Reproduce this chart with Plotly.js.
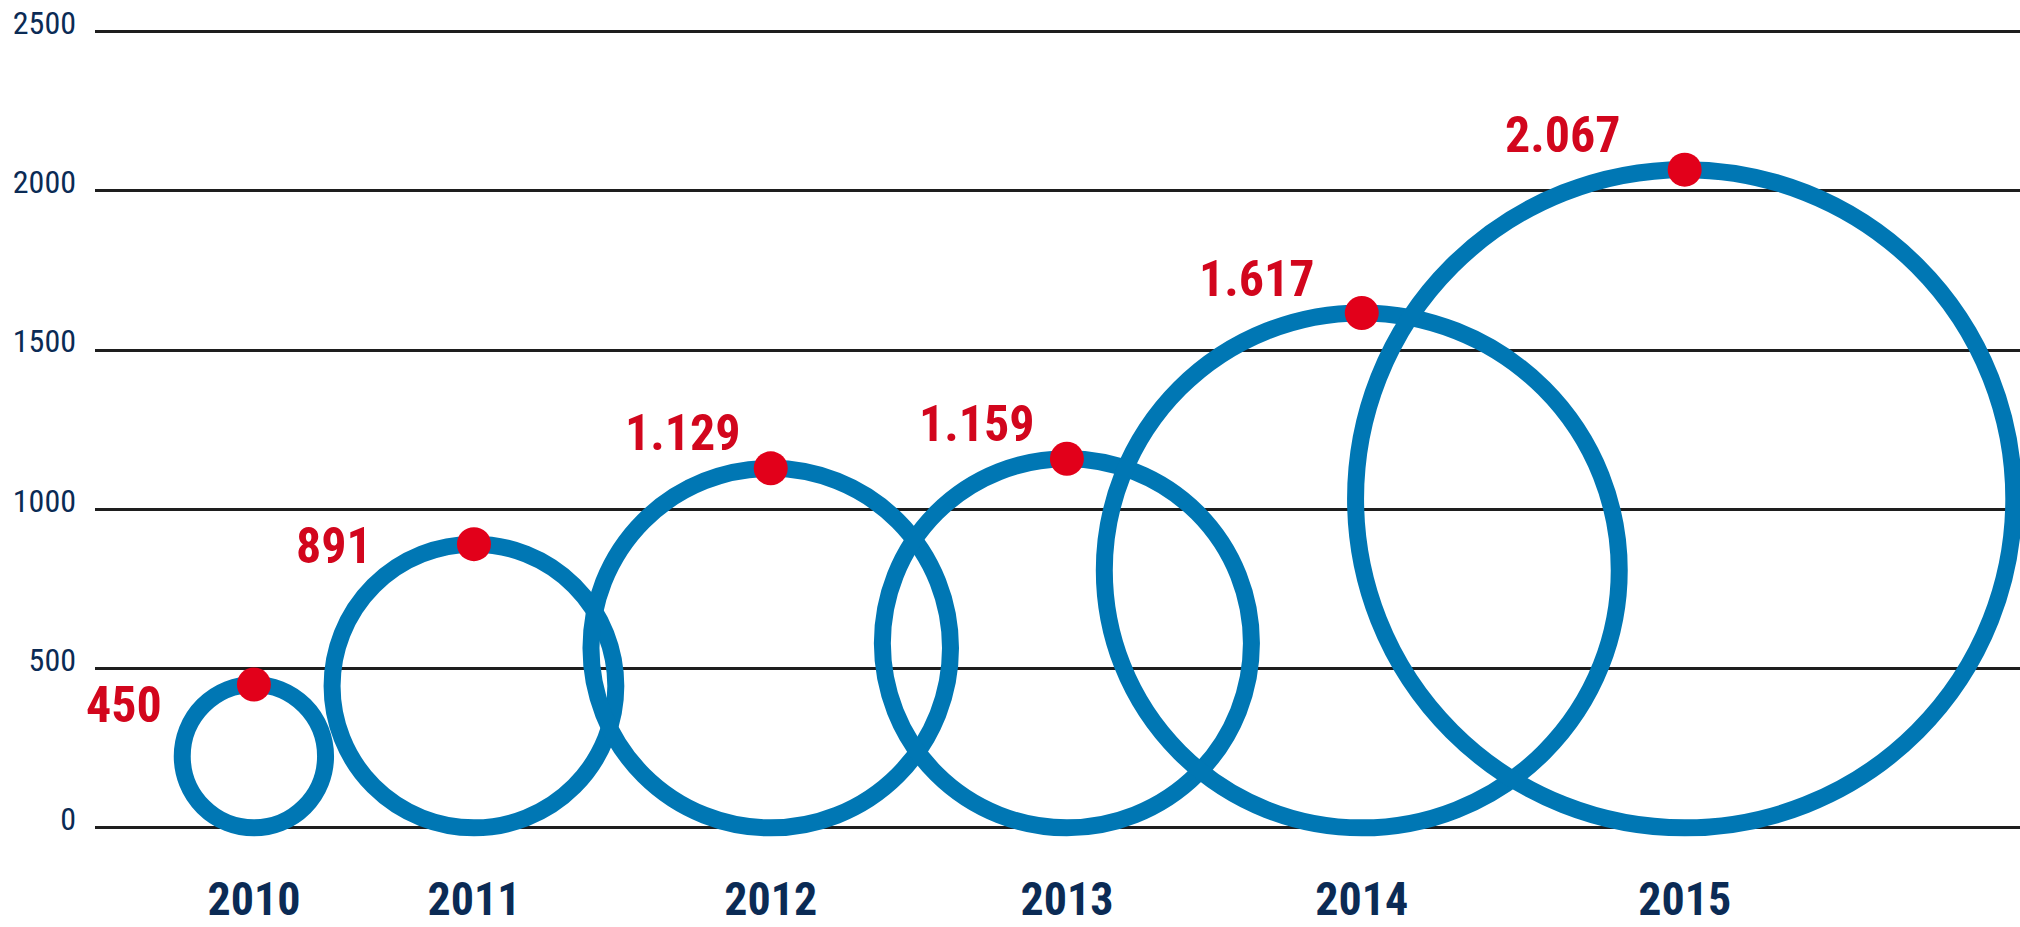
<!DOCTYPE html>
<html>
<head>
<meta charset="utf-8">
<script src="https://cdn.plot.ly/plotly-3.0.1.min.js"></script>
<style>
  html, body { margin: 0; padding: 0; background: #ffffff; }
  #chart { width: 2020px; height: 927px; }
</style>
</head>
<body>
<div id="chart"></div>
<script>
// ---- data ----
const years  = ['2010', '2011', '2012', '2013', '2014', '2015'];
const values = [450, 891, 1129, 1159, 1617, 2067];
const yTickValues = [0, 500, 1000, 1500, 2000, 2500];
const yTickLabels = ['0', '500', '1000', '1500', '2000', '2500'];

// ---- placement (layout, in axis units) ----
const slotCentres = [499, 1190, 2122, 3052, 3978, 4992];
const labelShift = [[-90, -20], [-100, -2], [-28, 35], [-30, 35], [-45, 34], [-62, 35]];

const FONT = '"Liberation Sans Narrow", "Roboto Condensed", "DejaVu Sans Condensed", Roboto, sans-serif';
const NAVY = '#0b2b55';
const RED_TEXT = '#d2061d';
const RED_DOT = '#e2001a';
const BLUE = '#0077b4';

function fmt(v) {
  if (v >= 1000) {
    return Math.floor(v / 1000) + '.' + String(v % 1000).padStart(3, '0');
  }
  return String(v);
}

const rings = values.map((v, i) => ({
  type: 'circle',
  xref: 'x', yref: 'y',
  x0: slotCentres[i] - v / 2,
  x1: slotCentres[i] + v / 2,
  y0: 0,
  y1: v,
  line: { color: BLUE, width: 17 },
  fillcolor: 'rgba(0,0,0,0)',
  layer: 'between'
}));

const dots = {
  type: 'scatter',
  mode: 'markers',
  x: slotCentres,
  y: values,
  marker: { color: RED_DOT, size: 34, line: { width: 0 } },
  hoverinfo: 'skip',
  cliponaxis: false,
  showlegend: false
};

const labels = values.map((v, i) => ({
  x: slotCentres[i],
  y: v,
  xref: 'x', yref: 'y',
  text: '<b>' + fmt(v) + '</b>',
  showarrow: false,
  xanchor: 'right',
  yanchor: 'middle',
  xshift: labelShift[i][0],
  yshift: labelShift[i][1],
  font: { family: FONT, size: 50, color: RED_TEXT }
}));

const layout = {
  width: 2020,
  height: 927,
  margin: { l: 95, r: 0, t: 26, b: 80, pad: 0 },
  paper_bgcolor: '#ffffff',
  plot_bgcolor: '#ffffff',
  showlegend: false,
  xaxis: {
    range: [0, 6045],
    tickvals: slotCentres,
    ticktext: years.map(y => '<b>' + y + '</b>'),
    tickfont: { family: FONT, size: 46, color: NAVY },
    showgrid: false,
    zeroline: false,
    showline: false,
    ticks: '',
    ticklabelstandoff: 21,
    fixedrange: true
  },
  yaxis: {
    range: [-60, 2518],
    scaleanchor: 'x',
    scaleratio: 1,
    tickvals: yTickValues,
    ticktext: yTickLabels,
    tickfont: { family: FONT, size: 32, color: NAVY },
    showgrid: true,
    gridcolor: '#1e1e1e',
    gridwidth: 3,
    zeroline: false,
    showline: false,
    ticks: '',
    ticklabelstandoff: 18,
    ticklabelshift: -9,
    fixedrange: true
  },
  shapes: rings,
  annotations: labels
};

Plotly.newPlot('chart', [dots], layout, { displayModeBar: false, staticPlot: true });
</script>
</body>
</html>
